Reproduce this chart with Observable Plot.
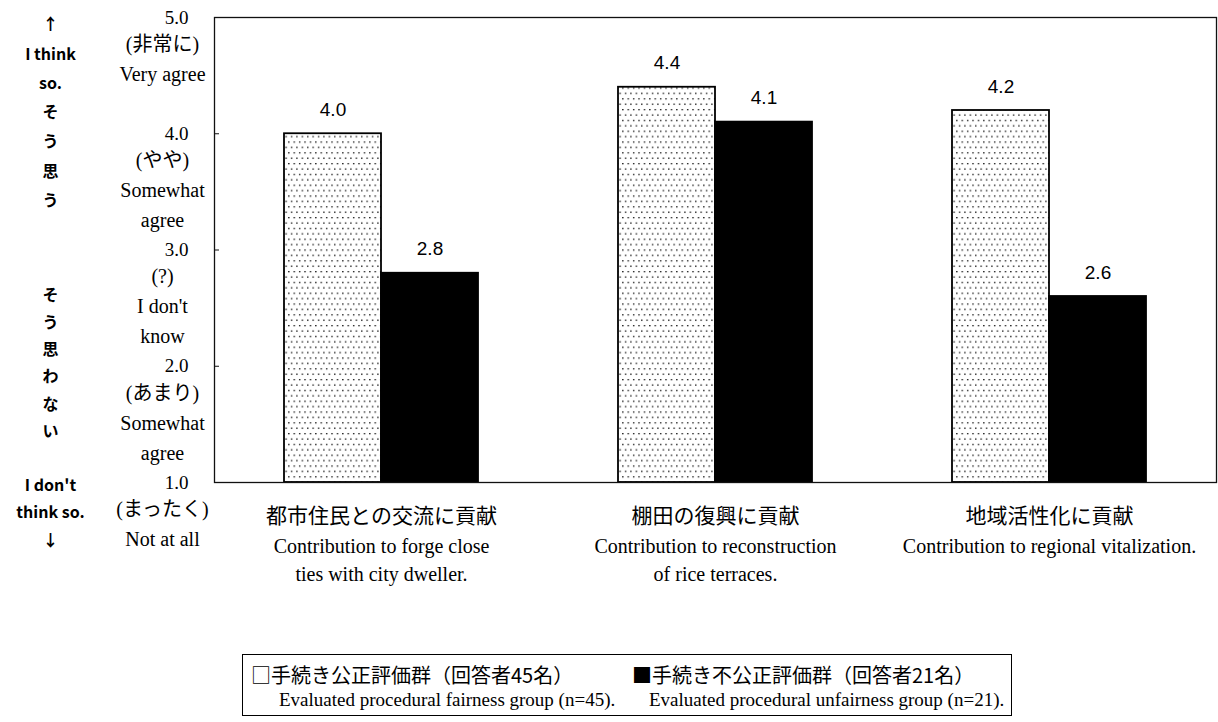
<!DOCTYPE html>
<html>
<head>
<meta charset="utf-8">
<script src="https://cdn.jsdelivr.net/npm/d3@7"></script>
<script src="https://cdn.jsdelivr.net/npm/@observablehq/plot@0.6"></script>
<style>
  body { margin: 0; background: #fff; }
  #chart svg { display: block; }
  #legend {
    position: relative;
    margin-left: 242px; margin-top: 14px;
    width: 770px; height: 62px; box-sizing: border-box;
    border: 1px solid #000; background: #fff;
  }
  .lg { position: absolute; top: 7px; white-space: nowrap; }
  .lg .ja { font-family: "Noto Sans CJK JP", sans-serif; font-size: 20px; line-height: 25px; }
  .lg .en { font-family: "Liberation Serif", serif; font-size: 19px; line-height: 25px; }
</style>
</head>
<body>
<svg width="0" height="0" style="position:absolute">
  <defs>
    <pattern id="dots" width="5.4" height="10.8" patternUnits="userSpaceOnUse">
      <rect x="0" y="0" width="5.4" height="10.8" fill="#fff"/>
      <rect x="1" y="1" width="1.3" height="1.3" fill="#000"/>
      <rect x="3.7" y="6.4" width="1.3" height="1.3" fill="#000"/>
    </pattern>
  </defs>
</svg>
<div id="chart"></div>
<div id="legend"></div>
<script>
// ---- data ----
const categories = ["都市住民との交流に貢献", "棚田の復興に貢献", "地域活性化に貢献"];
const categoriesEn = [
  "Contribution to forge close\nties with city dweller.",
  "Contribution to reconstruction\nof rice terraces.",
  "Contribution to regional vitalization."
];
const groups = ["手続き公正評価群（回答者45名）", "手続き不公正評価群（回答者21名）"];
const groupsEn = ["Evaluated procedural fairness group (n=45).", "Evaluated procedural unfairness group (n=21)."];
const groupMarkers = ["□", "■"];
const fairValues = [4.0, 4.4, 4.2];
const unfairValues = [2.8, 4.1, 2.6];
const yTicks = [1, 2, 3, 4, 5];
const yTickLabels = [
  "(まったく)\nNot at all",
  "(あまり)\nSomewhat\nagree",
  "(?)\nI don't\nknow",
  "(やや)\nSomewhat\nagree",
  "(非常に)\nVery agree"
];
const topNote = "↑\nI think\nso.\nそ\nう\n思\nう";
const bottomNote = "そ\nう\n思\nわ\nな\nい\n\u00a0\nI don't\nthink so.\n↓";

const data = categories.flatMap((c, i) => [
  {category: c, group: groups[0], value: fairValues[i]},
  {category: c, group: groups[1], value: unfairValues[i]}
]);

const serif = "'Liberation Serif', 'Noto Sans CJK JP', serif";
const cjk = "'Noto Sans CJK JP', sans-serif";

const chart = Plot.plot({
  width: 1218,
  height: 640,
  marginLeft: 213,
  marginRight: 2,
  marginTop: 17,
  marginBottom: 158,
  style: {background: "white", color: "black"},
  fx: {domain: categories, padding: 0, axis: null, label: null},
  x: {domain: groups, paddingInner: 0, paddingOuter: 0.713, axis: null},
  y: {domain: [1, 5], axis: null, label: null},
  color: {domain: groups, range: ["url(#dots)", "#000"]},
  marks: [
    Plot.barY(data, {fx: "category", x: "group", y1: 1, y2: "value", fill: "group", stroke: "#000", strokeWidth: 1.8}),
    Plot.text(data, {fx: "category", x: "group", y: "value", text: d => d.value.toFixed(1), dy: -24, fontSize: 19, fontFamily: "'Liberation Sans', sans-serif"}),
    Plot.frame({facet: "super", stroke: "#111", strokeWidth: 1.3}),
    Plot.axisY({ticks: yTicks, tickSize: -5, tickFormat: () => "", stroke: "#111", label: null}),
    Plot.axisY({ticks: yTicks, tickSize: 0, tickPadding: 38, textAnchor: "middle", tickFormat: d3.format(".1f"), fontSize: 19, fontFamily: serif, label: null}),
    Plot.axisY({ticks: yTicks, tickSize: 0, tickPadding: 52, textAnchor: "middle", lineAnchor: "top", dy: 12, lineHeight: 1.5,
      tickFormat: d => yTickLabels[yTicks.indexOf(d)], fontSize: 20, fontFamily: serif, label: null}),
    Plot.axisFx({anchor: "bottom", tickSize: 0, tickPadding: 26, fontSize: 21, fontFamily: cjk, label: null}),
    Plot.axisFx({anchor: "bottom", tickSize: 0, tickPadding: 51, fontSize: 20, lineHeight: 1.4, fontFamily: serif, label: null,
      tickFormat: d => categoriesEn[categories.indexOf(d)]}),
    Plot.text([topNote], {fx: () => categories[0], text: d => d, frameAnchor: "top-left", lineAnchor: "top", textAnchor: "middle",
      dx: -164, dy: -8, lineHeight: 1.83, fontSize: 16, fontWeight: "bold", fontFamily: cjk}),
    Plot.text([bottomNote], {fx: () => categories[0], text: d => d, frameAnchor: "bottom-left", lineAnchor: "bottom", textAnchor: "middle",
      dx: -164, dy: 63, lineHeight: 1.7, fontSize: 16, fontWeight: "bold", fontFamily: cjk})
  ]
});
document.getElementById("chart").append(chart);

// ---- legend ----
const legend = document.getElementById("legend");
const colLeft = [8, 389];
const enIndent = [28, 17];
groups.forEach((g, i) => {
  const div = document.createElement("div");
  div.className = "lg";
  div.style.left = colLeft[i] + "px";
  const ja = document.createElement("div");
  ja.className = "ja";
  ja.textContent = groupMarkers[i] + g;
  const en = document.createElement("div");
  en.className = "en";
  en.style.paddingLeft = enIndent[i] + "px";
  en.textContent = groupsEn[i];
  div.append(ja, en);
  legend.append(div);
});
</script>
</body>
</html>
